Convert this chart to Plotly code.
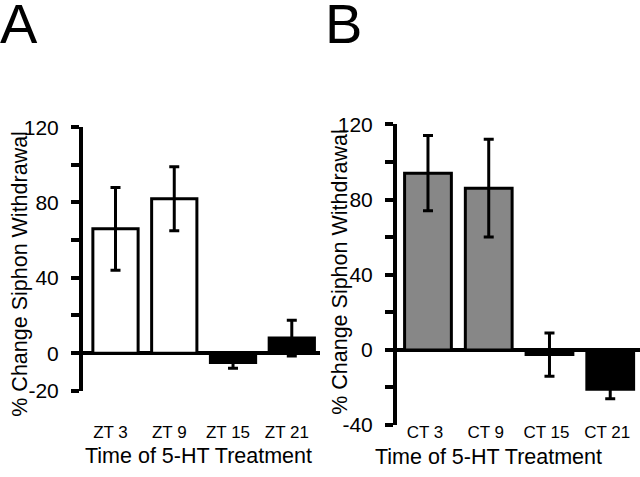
import plotly.graph_objects as go

# ---- data ----
cats_a = ["ZT 3", "ZT 9", "ZT 15", "ZT 21"]
vals_a = [66, 82, -5, 8]
errs_a = [22, 17, 3, 9.5]

cats_b = ["CT 3", "CT 9", "CT 15", "CT 21"]
vals_b = [94, 86, -2.5, -21]
errs_b = [20, 26, 11.5, 5]

yticks_a = [-20, 0, 20, 40, 60, 80, 100, 120]
ylabels_a = ["-20", "0", "", "40", "", "80", "", "120"]
yticks_b = [-40, -20, 0, 20, 40, 60, 80, 100, 120]
ylabels_b = ["-40", "", "0", "", "40", "", "80", "", "120"]

colors_a = ["white", "white", "black", "black"]
colors_b = ["#878787", "#878787", "black", "black"]

FONT = "Liberation Sans, Arial, Helvetica, sans-serif"
W, H = 640, 477
BW = 0.77

def px_x(p):
    return p / W

def px_y(p):
    return (H - p) / H

fig = go.Figure()

fig.add_trace(go.Bar(
    x=list(range(len(cats_a))), y=vals_a, width=BW, offset=-BW / 2,
    marker=dict(color=colors_a, line=dict(color="black", width=3)),
    error_y=dict(type="data", array=errs_a, visible=True, color="black",
                 thickness=3, width=5),
    xaxis="x", yaxis="y", showlegend=False,
))
fig.add_trace(go.Bar(
    x=list(range(len(cats_b))), y=vals_b, width=BW, offset=-BW / 2,
    marker=dict(color=colors_b, line=dict(color="black", width=3)),
    error_y=dict(type="data", array=errs_b, visible=True, color="black",
                 thickness=3, width=5),
    xaxis="x2", yaxis="y2", showlegend=False,
))

xpos = px_y(429)
common_x = dict(showline=False, showgrid=False, zeroline=False, ticks="",
                tickfont=dict(family=FONT, size=17, color="black"),
                anchor="free", position=xpos)
common_y = dict(showline=True, linewidth=4, linecolor="black", showgrid=False,
                zeroline=True, zerolinewidth=4, zerolinecolor="black",
                ticks="outside", ticklen=8, tickwidth=3.5, tickcolor="black",
                tickfont=dict(family=FONT, size=21, color="black"),
                ticklabelstandoff=8)

fig.update_layout(
    width=W, height=H,
    margin=dict(l=0, r=0, t=0, b=0, pad=0),
    paper_bgcolor="white", plot_bgcolor="white",
    barmode="overlay",
    xaxis=dict(domain=[px_x(83), px_x(320)], range=[-0.553, 3.48],
               tickvals=list(range(len(cats_a))), ticktext=cats_a,
               ticklabelshift=-5, **common_x),
    yaxis=dict(domain=[px_y(398), px_y(121)], range=[-20, 120],
               tickvals=yticks_a, ticktext=ylabels_a, anchor="x", **common_y),
    xaxis2=dict(domain=[px_x(397), 1.0], range=[-0.51, 3.49],
                tickvals=list(range(len(cats_b))), ticktext=cats_b,
                ticklabelshift=-3, **common_x),
    yaxis2=dict(domain=[px_y(434), px_y(118)], range=[-40, 120],
                tickvals=yticks_b, ticktext=ylabels_b, anchor="x2", **common_y),
)

ann_font = dict(family=FONT, size=21.5, color="black")
annotations = [
    dict(text="A", x=px_x(0), y=1.0, xref="paper", yref="paper",
         xanchor="left", yanchor="top", xshift=-2, yshift=22, showarrow=False,
         font=dict(family=FONT, size=56, color="black")),
    dict(text="B", x=px_x(325), y=1.0, xref="paper", yref="paper",
         xanchor="left", yanchor="top", xshift=-2, yshift=22, showarrow=False,
         font=dict(family=FONT, size=56, color="black")),
    dict(text="% Change Siphon Withdrawal", x=px_x(20), y=px_y(275),
         xref="paper", yref="paper", textangle=-90, showarrow=False,
         xanchor="center", yanchor="middle", font=ann_font),
    dict(text="% Change Siphon Withdrawal", x=px_x(340), y=px_y(273),
         xref="paper", yref="paper", textangle=-90, showarrow=False,
         xanchor="center", yanchor="middle", font=ann_font),
    dict(text="Time of 5-HT Treatment", x=px_x(198), y=px_y(467),
         xref="paper", yref="paper", showarrow=False,
         xanchor="center", yanchor="middle", font=ann_font),
    dict(text="Time of 5-HT Treatment", x=px_x(488), y=px_y(468),
         xref="paper", yref="paper", showarrow=False,
         xanchor="center", yanchor="middle", font=ann_font),
]
fig.update_layout(annotations=annotations)

fig.write_html("out.html", config={"displayModeBar": False},
               post_script="document.body.style.margin='0px';")
